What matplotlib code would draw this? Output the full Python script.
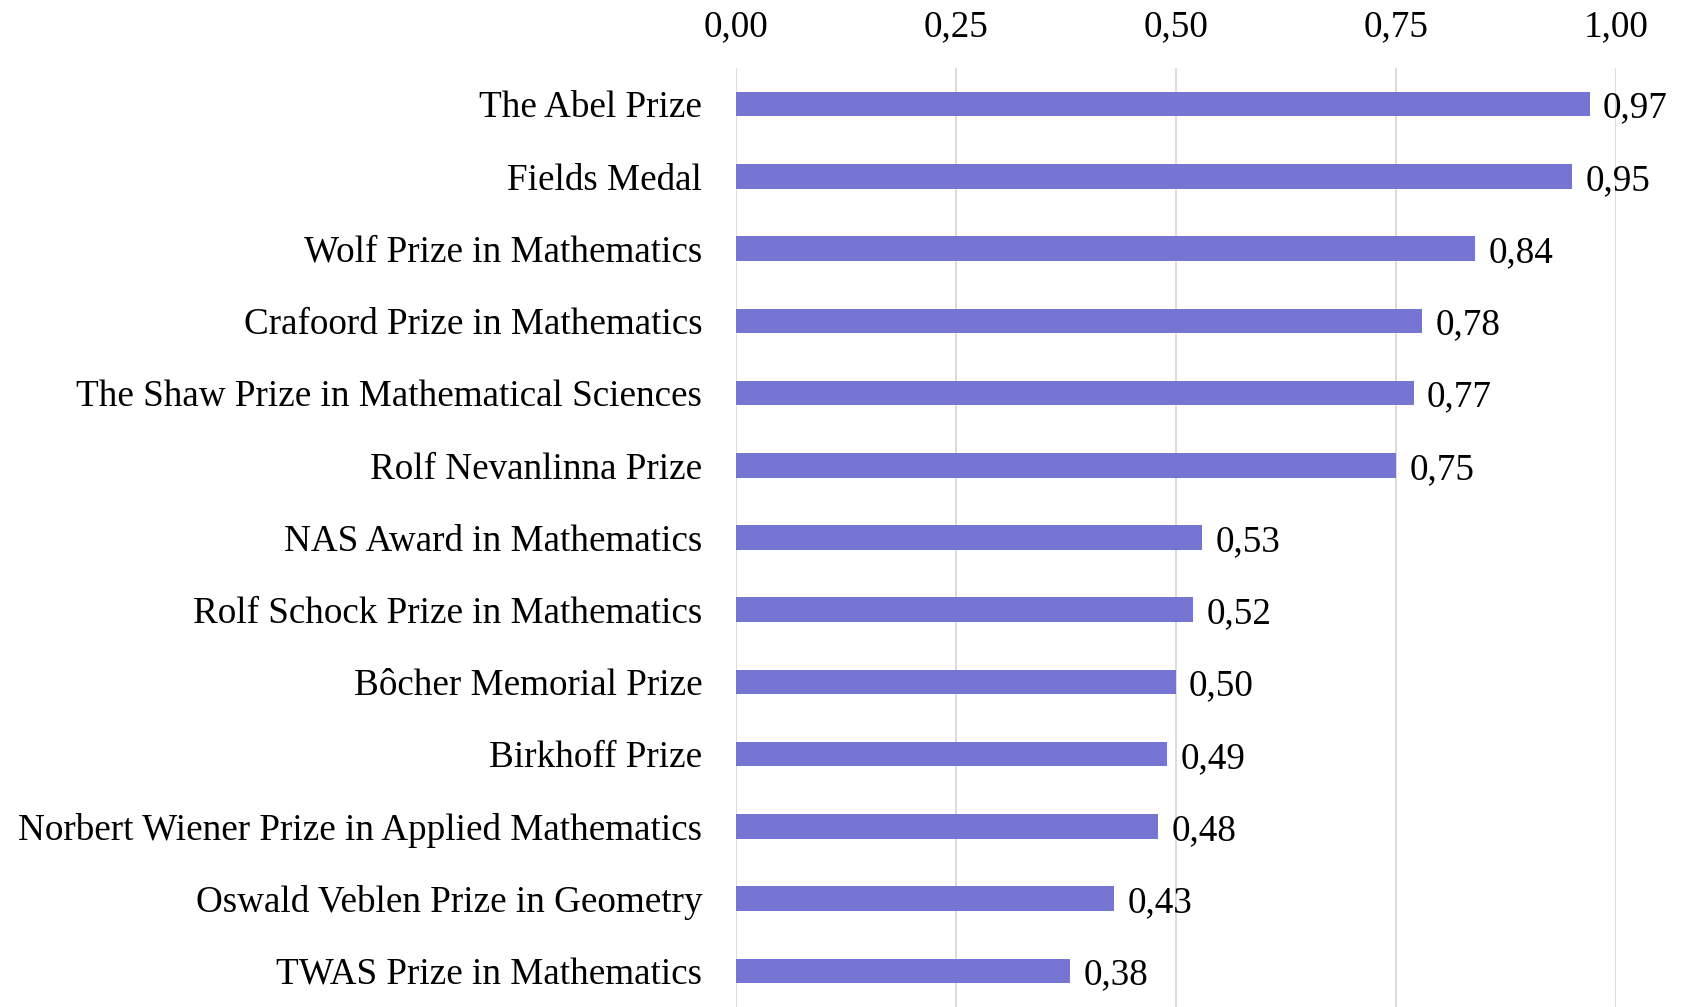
"""Horizontal bar chart of mathematics prize scores."""

import matplotlib.pyplot as plt
from matplotlib.ticker import FuncFormatter

prizes = [
    "The Abel Prize",
    "Fields Medal",
    "Wolf Prize in Mathematics",
    "Crafoord Prize in Mathematics",
    "The Shaw Prize in Mathematical Sciences",
    "Rolf Nevanlinna Prize",
    "NAS Award in Mathematics",
    "Rolf Schock Prize in Mathematics",
    "Bôcher Memorial Prize",
    "Birkhoff Prize",
    "Norbert Wiener Prize in Applied Mathematics",
    "Oswald Veblen Prize in Geometry",
    "TWAS Prize in Mathematics",
]
scores = [0.97, 0.95, 0.84, 0.78, 0.77, 0.75, 0.53, 0.52, 0.50, 0.49, 0.48, 0.43, 0.38]
x_ticks = [0.0, 0.25, 0.5, 0.75, 1.0]

plt.rcParams["font.family"] = ["Liberation Serif", "DejaVu Serif"]
plt.rcParams["font.size"] = 26.7

fig = plt.figure(figsize=(16.86, 10.07), dpi=100)
ax = fig.add_axes([0.4363, 0.0, 0.5222, 0.9325])

ys = list(range(len(prizes)))
ax.barh(ys, scores, height=0.34, color="#7676d2", zorder=3)
for y, v in zip(ys, scores):
    ax.text(v + 0.015, y + 0.06, f"{v:.2f}".replace(".", ","), va="center", ha="left",
            zorder=4)

ax.set_ylim(len(prizes) - 0.5, -0.5)
ax.set_xlim(0, 1.0)
ax.set_yticks(ys)
ax.set_yticklabels(prizes)
ax.set_xticks(x_ticks)
ax.xaxis.set_major_formatter(FuncFormatter(lambda v, p: f"{v:.2f}".replace(".", ",")))
ax.xaxis.tick_top()
ax.tick_params(axis="x", length=0, pad=17)
ax.tick_params(axis="y", length=0, pad=24)
ax.grid(axis="x", color="#d9d9d9", linewidth=1.3, zorder=0)
for s in ax.spines.values():
    s.set_visible(False)

fig.savefig("out.png", dpi=100)
